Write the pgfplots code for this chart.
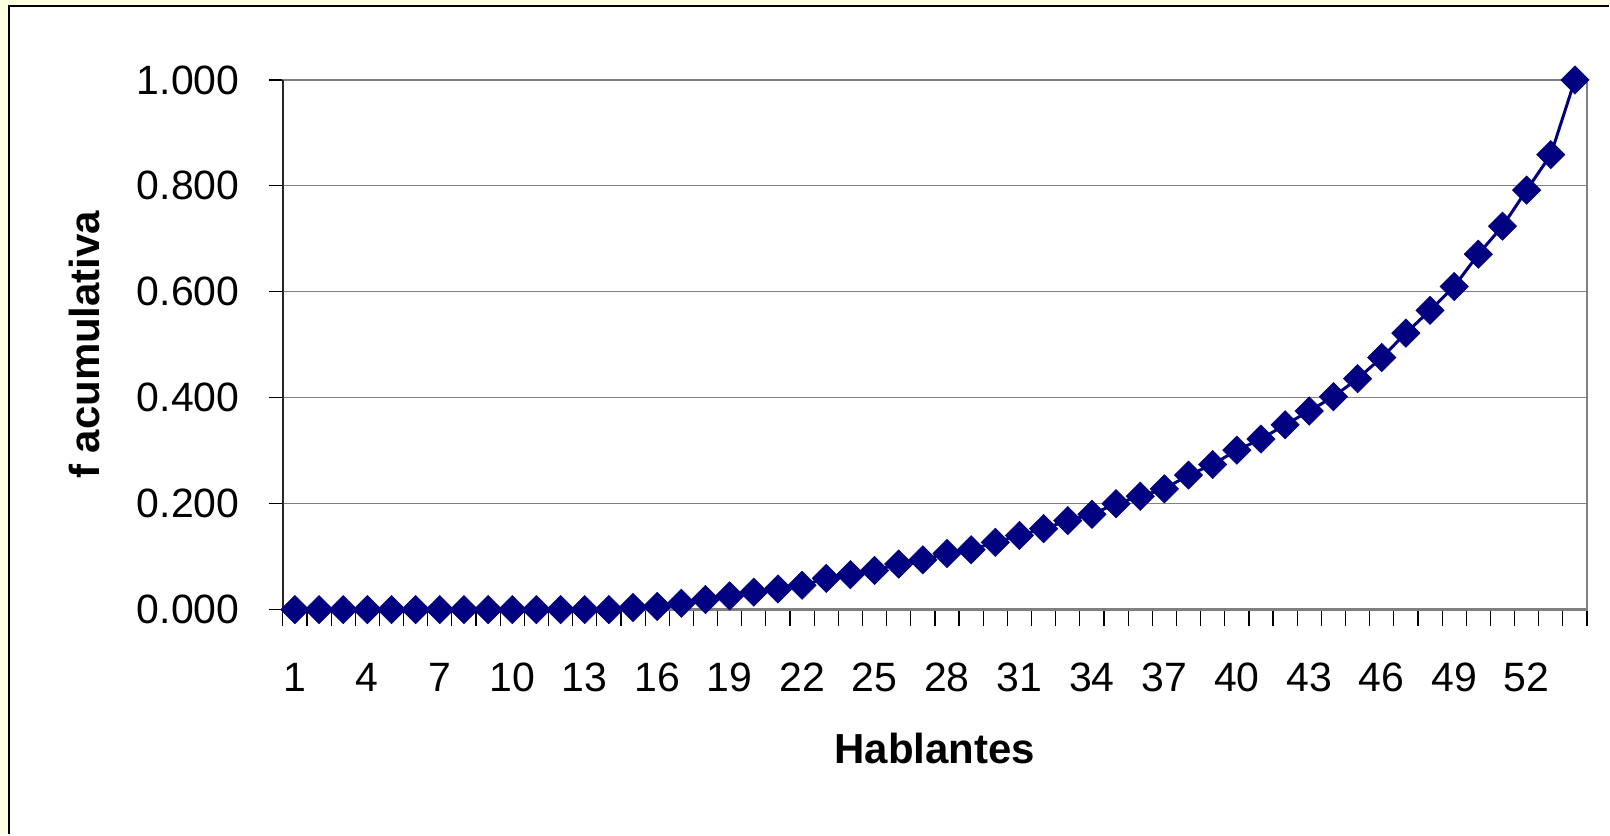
\documentclass[border=0pt]{standalone}
\usepackage{fontspec}
\setmainfont{Liberation Sans}
\usepackage{pgfplots}
\pgfplotsset{compat=1.18}
\definecolor{navy}{RGB}{0,0,128}
\definecolor{bgyellow}{RGB}{255,255,225}
\definecolor{gridgray}{RGB}{128,128,128}
\begin{document}
\begin{tikzpicture}
\fill[bgyellow] (0pt,0pt) rectangle (805pt,417.5pt);
\fill[white] (4.5pt,0pt) rectangle (805pt,414.5pt);
\draw[black,line width=1pt] (4.5pt,0pt) -- (4.5pt,414.5pt) -- (805pt,414.5pt);
\useasboundingbox (0pt,0pt) rectangle (805pt,417.5pt);
\begin{axis}[
  at={(141.5pt,112.5pt)}, anchor=south west,
  scale only axis, width=652.5pt, height=265pt,
  xmin=0.5, xmax=54.5, ymin=0, ymax=1,
  clip=false,
  axis line style={draw=gridgray, line width=1.2pt},
  xtick={1,4,...,52},
  minor xtick={0.5,1.5,...,54.5},
  xtick pos=bottom, ytick pos=left,
  tick align=outside,
  major tick length=7pt, minor tick length=8pt,
  major x tick style={draw=none},
  minor x tick style={black, line width=0.6pt},
  y tick style={black, line width=0.6pt},
  ytick={0,0.2,...,1.0},
  ymajorgrids,
  major grid style={gridgray, line width=0.6pt},
  /pgf/number format/assume math mode=true,
  yticklabel={\pgfmathprintnumber[fixed,fixed zerofill,precision=3]{\tick}},
  tick label style={font=\fontsize{20.5}{24}\selectfont},
  xticklabel style={anchor=center, yshift=-27pt},
  yticklabel style={anchor=east, inner sep=0pt, xshift=-14.5pt},
  xlabel={Hablantes},
  ylabel={f acumulativa},
  label style={font=\fontsize{21}{25}\selectfont\bfseries},
  xlabel style={at={(axis description cs:0.5,-0.262)}, anchor=center},
  ylabel style={at={(axis description cs:-0.152,0.5)}, anchor=center},
]
\draw[black!85, line width=1.2pt] (rel axis cs:0,0) -- (rel axis cs:0,1);
\addplot[navy, line width=1.5pt, mark=square*, mark size=5pt,
  mark options={rotate=45, fill=navy, draw=navy, line width=0.3pt}]
coordinates {
(1,0.000) (2,0.000) (3,0.000) (4,0.000) (5,0.000) (6,0.000) (7,0.000)
(8,0.000) (9,0.000) (10,0.000) (11,0.000) (12,0.000) (13,0.000) (14,0.000)
(15,0.004) (16,0.006) (17,0.012) (18,0.019) (19,0.026) (20,0.033)
(21,0.039) (22,0.046) (23,0.059) (24,0.066) (25,0.074) (26,0.086)
(27,0.094) (28,0.106) (29,0.113) (30,0.127) (31,0.140) (32,0.153)
(33,0.168) (34,0.180) (35,0.200) (36,0.214) (37,0.228) (38,0.254)
(39,0.274) (40,0.301) (41,0.322) (42,0.349) (43,0.375) (44,0.402)
(45,0.436) (46,0.476) (47,0.522) (48,0.565) (49,0.610) (50,0.671)
(51,0.724) (52,0.792) (53,0.859) (54,1.000)
};
\end{axis}
\end{tikzpicture}
\end{document}
